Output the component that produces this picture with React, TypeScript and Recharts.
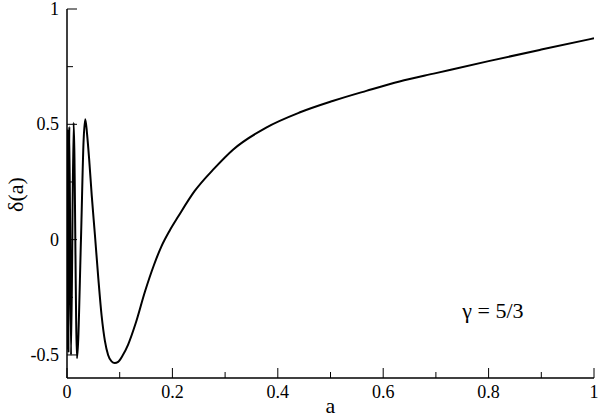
import React from 'react';
import { LineChart, Line, XAxis, YAxis, ReferenceDot } from 'recharts';

// scale factor a and density contrast delta(a)
const aValues = [
  0.00005, 0.0001, 0.00018, 0.0003, 0.0005, 0.0008, 0.0012, 0.0018, 0.0028, 0.0044,
  0.0076, 0.0126, 0.019, 0.0265, 0.0315, 0.0347, 0.038, 0.042, 0.047, 0.053,
  0.0595, 0.0657, 0.072, 0.078, 0.0845, 0.0905, 0.097, 0.105, 0.116, 0.13,
  0.148, 0.165, 0.179, 0.195, 0.211, 0.242, 0.28, 0.315, 0.378, 0.441,
  0.504, 0.568, 0.631, 0.7, 0.8, 0.9, 1.0,
];
const deltaValues = [
  0, 0.44, -0.45, 0.46, -0.46, 0.47, -0.48, 0.48, -0.49, 0.49,
  -0.5, 0.507, -0.514, 0.0, 0.43, 0.522, 0.46, 0.35, 0.19, 0.02,
  -0.17, -0.33, -0.44, -0.5, -0.528, -0.535, -0.53, -0.505, -0.455, -0.365,
  -0.225, -0.11, -0.03, 0.04, 0.1, 0.21, 0.31, 0.39, 0.486, 0.551,
  0.601, 0.645, 0.686, 0.722, 0.774, 0.824, 0.873,
];

const xMajorTicks = [0, 0.2, 0.4, 0.6, 0.8, 1];
const xMinorTicks = [0.1, 0.3, 0.5, 0.7, 0.9];
const xTickLabels = ['0', '0.2', '0.4', '0.6', '0.8', '1'];
const yMajorTicks = [-0.5, 0, 0.5, 1];
const yMinorTicks = [-0.25, 0.25, 0.75];
const yTickLabels = ['-0.5', '0', '0.5', '1'];
const xLabel = 'a';
const yLabel = 'δ(a)';
const gammaText = 'γ = 5/3';

const data = aValues.map((a, i) => ({ a, delta: deltaValues[i] }));
const xTicks = [...xMajorTicks, ...xMinorTicks].sort((p, q) => p - q);
const yTicks = [...yMajorTicks, ...yMinorTicks].sort((p, q) => p - q);

const FONT = 'Liberation Serif';
const MAJOR = 10;
const MINOR = 6;
const GAP = 8;

const majorIndex = (v: number, list: number[]) => list.findIndex((t) => Math.abs(t - v) < 1e-9);

const BottomTick = (props: any) => {
  const { x, y, payload } = props;
  const idx = majorIndex(payload.value, xMajorTicks);
  const axisY = y - GAP;
  return (
    <g>
      <line x1={x} x2={x} y1={axisY} y2={axisY - (idx >= 0 ? MAJOR : MINOR)} stroke="#000" />
      {idx >= 0 && (
        <text x={x} y={y + 12} textAnchor="middle" fontFamily={FONT} fontSize={18} fill="#000">
          {xTickLabels[idx]}
        </text>
      )}
    </g>
  );
};

const TopTick = (props: any) => {
  const { x, y, payload } = props;
  const idx = majorIndex(payload.value, xMajorTicks);
  return <line x1={x} x2={x} y1={y} y2={y + (idx >= 0 ? MAJOR : MINOR)} stroke="#000" />;
};

const LeftTick = (props: any) => {
  const { x, y, payload } = props;
  const idx = majorIndex(payload.value, yMajorTicks);
  const axisX = x + GAP;
  return (
    <g>
      <line x1={axisX} x2={axisX + (idx >= 0 ? MAJOR : MINOR)} y1={y} y2={y} stroke="#000" />
      {idx >= 0 && (
        <text x={x} y={y + 6} textAnchor="end" fontFamily={FONT} fontSize={18} fill="#000">
          {yTickLabels[idx]}
        </text>
      )}
    </g>
  );
};

const RightTick = (props: any) => {
  const { x, y, payload } = props;
  const idx = majorIndex(payload.value, yMajorTicks);
  return <line x1={x} x2={x - (idx >= 0 ? MAJOR : MINOR)} y1={y} y2={y} stroke="#000" />;
};

const axisLine = { stroke: '#000', strokeWidth: 1.5 };

const App: React.FC = () => {
  return (
    <div style={{ position: 'absolute', left: 0, top: 0, width: 600, height: 417, background: '#fff' }}>
      <LineChart width={600} height={417} data={data} margin={{ top: 9, right: 6, bottom: 0, left: 0 }}>
        <XAxis
          dataKey="a"
          type="number"
          domain={[0, 1]}
          ticks={xTicks}
          interval={0}
          allowDataOverflow
          height={39}
          tickSize={0}
          tickMargin={GAP}
          tickLine={false}
          axisLine={axisLine}
          tick={BottomTick}
          label={(p: any) => {
            const vb = p.viewBox;
            return (
              <text x={vb.x + vb.width / 2} y={vb.y + vb.height - 4} textAnchor="middle" fontFamily={FONT} fontSize={22} fill="#000">
                {xLabel}
              </text>
            );
          }}
        />
        <XAxis
          xAxisId="top"
          orientation="top"
          type="number"
          domain={[0, 1]}
          ticks={xTicks}
          interval={0}
          allowDataOverflow
          height={0}
          tickSize={0}
          tickMargin={0}
          tickLine={false}
          axisLine={axisLine}
          tick={TopTick}
        />
        <YAxis
          type="number"
          domain={[-0.6, 1]}
          ticks={yTicks}
          interval={0}
          allowDataOverflow
          width={67}
          tickSize={0}
          tickMargin={GAP}
          tickLine={false}
          axisLine={axisLine}
          tick={LeftTick}
          label={(p: any) => {
            const vb = p.viewBox;
            const cx = vb.x + 15;
            const cy = vb.y + vb.height / 2 + 1;
            return (
              <text
                x={cx}
                y={cy}
                transform={`rotate(-90, ${cx}, ${cy})`}
                textAnchor="middle"
                dominantBaseline="central"
                fontFamily={FONT}
                fontSize={22}
                fill="#000"
              >
                {yLabel}
              </text>
            );
          }}
        />
        <YAxis
          yAxisId="right"
          orientation="right"
          type="number"
          domain={[-0.6, 1]}
          ticks={yTicks}
          interval={0}
          allowDataOverflow
          width={0}
          tickSize={0}
          tickMargin={0}
          tickLine={false}
          axisLine={axisLine}
          tick={RightTick}
        />
        <Line
          type="monotone"
          dataKey="delta"
          stroke="#000"
          strokeWidth={2}
          dot={false}
          isAnimationActive={false}
        />
        <ReferenceDot
          x={0.75}
          y={-0.34}
          r={0}
          stroke="none"
          fill="none"
          label={(p: any) => {
            const vb = p.viewBox;
            return (
              <text x={vb.x} y={vb.y} textAnchor="start" fontFamily={FONT} fontSize={22} fill="#000">
                {gammaText}
              </text>
            );
          }}
        />
      </LineChart>
    </div>
  );
};

export default App;
